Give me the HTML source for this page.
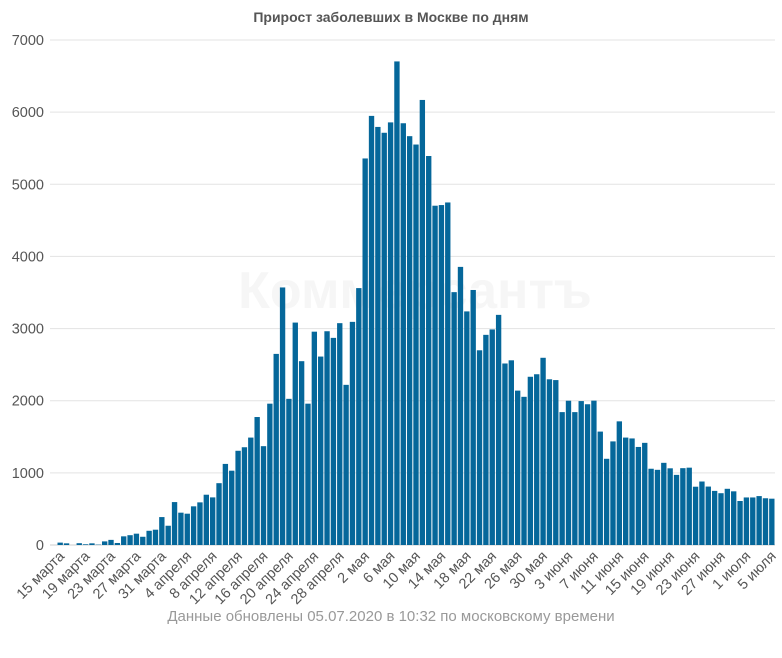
<!DOCTYPE html>
<html><head><meta charset="utf-8"><style>
body{margin:0;background:#fff;font-family:"Liberation Sans",sans-serif;}
svg text{font-family:"Liberation Sans",sans-serif;}
</style></head><body>
<svg id="chart" width="782" height="653">
<text x="391" y="22" text-anchor="middle" font-size="14" font-weight="bold" fill="#555">Прирост заболевших в Москве по дням</text>
<text x="415" y="308" text-anchor="middle" font-size="52" font-weight="bold" fill="#f6f6f6">Коммерсантъ</text>
<g id="grid"></g><g id="bars"></g><g id="xlabels"></g>
<text x="391" y="621" text-anchor="middle" font-size="15" fill="#999">Данные обновлены 05.07.2020 в 10:32 по московскому времени</text>
</svg>
<script>
const values = [33,23,0,25,10,23,5,50,71,28,120,136,157,114,197,212,387,
267,595,448,434,536,591,697,660,857,1124,1030,1306,1355,1489,1774,1370,1959,2649,3570,2026,3083,2548,1959,2957,2612,2963,2871,3075,2220,3093,
3561,5358,5948,5795,5714,5858,6703,5846,5667,5551,6169,5392,4703,4712,4748,3505,3855,3238,3535,2699,2913,2988,3190,2516,2560,2140,2054,2332,2367,2595,2297,
2286,1842,2000,1842,1995,1951,2001,1572,1195,1436,1714,1489,1477,1359,1416,1057,1042,1139,1063,972,1065,1072,808,880,810,750,718,779,744,610,
659,659,678,648,642];
const tickLabels = ["15 марта","19 марта","23 марта","27 марта","31 марта","4 апреля","8 апреля","12 апреля","16 апреля","20 апреля","24 апреля","28 апреля","2 мая","6 мая","10 мая","14 мая","18 мая","22 мая","26 мая","30 мая","3 июня","7 июня","11 июня","15 июня","19 июня","23 июня","27 июня","1 июля","5 июля"];
const yTicks = [0,1000,2000,3000,4000,5000,6000,7000];
const NS="http://www.w3.org/2000/svg";
const L=57,R=775,Y0=545,YT=40,YMAX=7000;
const n=values.length, bw=(R-L)/n;
const y=v=>Y0-(v/YMAX)*(Y0-YT);
const x=i=>L+i*bw;
const grid=document.getElementById('grid');
yTicks.forEach(t=>{
 const ln=document.createElementNS(NS,'line');
 ln.setAttribute('x1',50);ln.setAttribute('x2',R);ln.setAttribute('y1',y(t));ln.setAttribute('y2',y(t));
 ln.setAttribute('stroke',t===0?'#ccc':'#e3e3e3');ln.setAttribute('stroke-width',1);
 
 
 grid.appendChild(ln);
 const tx=document.createElementNS(NS,'text');
 tx.setAttribute('x',44);tx.setAttribute('y',y(t)+5);tx.setAttribute('text-anchor','end');
 tx.setAttribute('font-size',14.5);tx.setAttribute('fill','#555');tx.textContent=t;
 
 
 grid.appendChild(tx);
});
const bars=document.getElementById('bars');
values.forEach((v,i)=>{
 const r=document.createElementNS(NS,'rect');
 r.setAttribute('x',x(i)+0.5);r.setAttribute('width',bw-1);
 r.setAttribute('y',y(v));r.setAttribute('height',Y0-y(v));
 r.setAttribute('fill','#05679a');
 
 
 bars.appendChild(r);
});
const xl=document.getElementById('xlabels');
tickLabels.forEach((s,k)=>{
 const cx=x(k*4)+bw/2;
 const t=document.createElementNS(NS,'text');
 t.setAttribute('x',cx+5);t.setAttribute('y',557);
 t.setAttribute('text-anchor','end');t.setAttribute('font-size',14.5);t.setAttribute('fill','#555');
 t.setAttribute('transform','rotate(-45 '+(cx+5)+' 557)');
 t.textContent=s;
 
 
 xl.appendChild(t);
});
</script>
</body></html>
